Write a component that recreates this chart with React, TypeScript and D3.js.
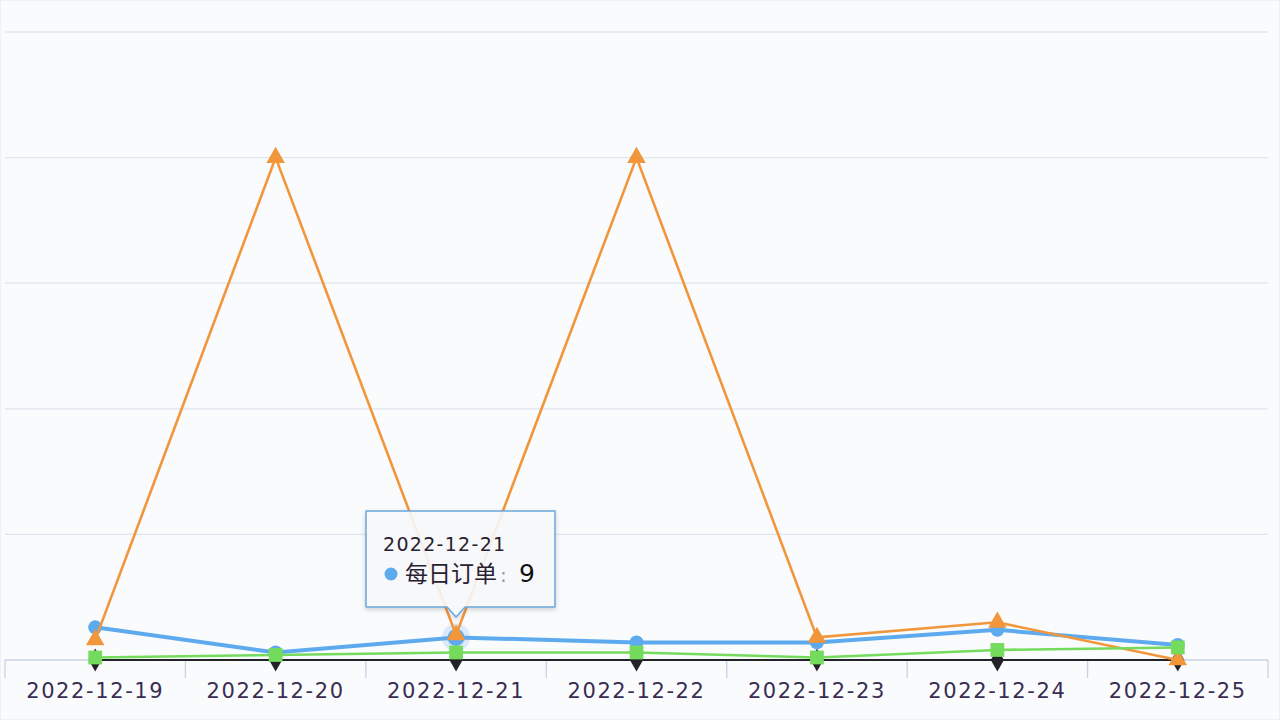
import React from "react";
import * as d3 from "d3";

const categories = ["2022-12-19", "2022-12-20", "2022-12-21", "2022-12-22", "2022-12-23", "2022-12-24", "2022-12-25"];
const dailyOrders = [13, 3, 9, 7, 7, 12, 6];
const orangeSeries = [8, 200, 10, 200, 9, 15, 0];
const greenSeries = [1, 2, 3, 3, 1, 4, 5];
const blackSeries = [0, 0, 0, 0, 0, 0, 0];
const yTicks = [0, 50, 100, 150, 200, 250];
const tooltipIndex = 2;
const tooltipName = "每日订单";

const W = 1280;
const H = 720;

export default function App() {
  const x = d3.scaleBand<string>().domain(categories).range([5, 1268]);
  const y = d3.scaleLinear().domain([0, 250]).range([660, 32]);
  const cx = (c: string) => (x(c) as number) + x.bandwidth() / 2;
  const line = (vals: number[]) =>
    d3.line<number>().x((_, i) => cx(categories[i])).y((v) => y(v))(vals) as string;

  const tri = d3.symbol().type(d3.symbolTriangle).size(150)() as string;
  const sq = d3.symbol().type(d3.symbolSquare).size(190)() as string;
  const dia = d3.symbol().type(d3.symbolDiamond).size(150)() as string;

  const blue = "#5eaaee";
  const orange = "#f2963c";
  const green = "#74db5c";
  const black = "#222228";

  const tx = cx(categories[tooltipIndex]);
  const ty = y(dailyOrders[tooltipIndex]);
  const boxL = 366, boxT = 511, boxW = 189, boxH = 96;

  return (
    <svg width={W} height={H} style={{ position: "fixed", left: 0, top: 0, background: "#f9fbfd" }}
      fontFamily="'DejaVu Sans', Verdana, sans-serif">
      <defs>
        <filter id="sh" x="-20%" y="-20%" width="140%" height="160%">
          <feDropShadow dx="0" dy="2" stdDeviation="2.5" floodColor="#000" floodOpacity="0.18" />
        </filter>
      </defs>
      <rect x={0.5} y={0.5} width={W - 1} height={H - 1} fill="#f9fbfd" stroke="#eef2f7" />
      {/* grid */}
      {yTicks.filter((t) => t > 0).map((t) => (
        <line key={t} x1={5} x2={1268} y1={y(t)} y2={y(t)} stroke="#dfe5ee" strokeWidth={1.3} />
      ))}
      {/* x axis */}
      <line x1={5} x2={1268} y1={y(0)} y2={y(0)} stroke="#c8d2e3" strokeWidth={1.3} />
      {d3.range(categories.length + 1).map((i) => {
        const xx = i < categories.length ? (x(categories[i]) as number) : 1268;
        return <line key={i} x1={xx} x2={xx} y1={y(0)} y2={y(0) + 18} stroke="#c8d2e3" strokeWidth={1.3} />;
      })}
      {categories.map((c) => (
        <text key={c} x={cx(c)} y={698} textAnchor="middle" fontSize={21} letterSpacing={1.6} fill="#3a2d52">
          {c}
        </text>
      ))}
      {/* black series */}
      <path d={line(blackSeries)} fill="none" stroke={black} strokeWidth={2} />
      {blackSeries.map((v, i) => (
        <path key={i} d={dia} transform={`translate(${cx(categories[i])},${y(v)})`} fill={black} />
      ))}
      {/* blue */}
      <path d={line(dailyOrders)} fill="none" stroke={blue} strokeWidth={4} />
      <circle cx={tx} cy={ty} r={14} fill={blue} opacity={0.2} />
      {dailyOrders.map((v, i) => (
        <circle key={i} cx={cx(categories[i])} cy={y(v)} r={i === tooltipIndex ? 8.5 : 7} fill={blue} />
      ))}
      {/* orange */}
      <path d={line(orangeSeries)} fill="none" stroke={orange} strokeWidth={2.6} />
      {orangeSeries.map((v, i) => (
        <path key={i} d={tri} transform={`translate(${cx(categories[i])},${y(v)})`} fill={orange} />
      ))}
      {/* green */}
      <path d={line(greenSeries)} fill="none" stroke={green} strokeWidth={2.6} />
      {greenSeries.map((v, i) => (
        <path key={i} d={sq} transform={`translate(${cx(categories[i])},${y(v)})`} fill={green} />
      ))}
      {/* tooltip */}
      <g filter="url(#sh)">
        <path
          d={`M${boxL},${boxT} h${boxW} v${boxH} H${tx + 9} L${tx},${boxT + boxH + 10} L${tx - 9},${boxT + boxH} H${boxL} Z`}
          fill="rgba(248,250,253,0.88)" stroke="#6da7dc" strokeWidth={1.5} strokeLinejoin="round"
        />
      </g>
      <text x={383} y={551} fontSize={19} letterSpacing={1.3} fill="#2a2030">{categories[tooltipIndex]}</text>
      <circle cx={391} cy={574} r={6.5} fill={blue} />
      <text x={405} y={582} fontSize={23} fill="#2a2030" fontFamily="'Noto Sans CJK SC', sans-serif">{tooltipName}</text>
      <text x={500} y={582} fontSize={20} fill="#999">:</text>
      <text x={519} y={582} fontSize={25} fill="#111">{dailyOrders[tooltipIndex]}</text>
    </svg>
  );
}
